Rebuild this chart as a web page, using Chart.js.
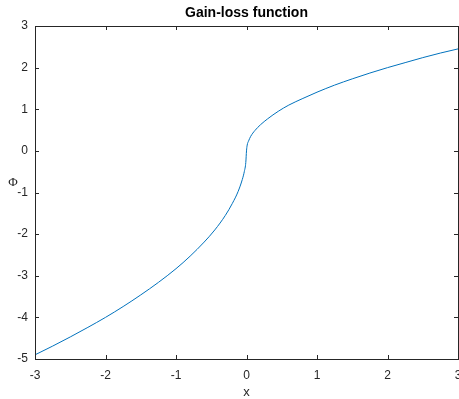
<!DOCTYPE html>
<html>
<head>
<meta charset="utf-8">
<script src="https://cdn.jsdelivr.net/npm/chart.js@4.4.0/dist/chart.umd.min.js"></script>
<style>
  html, body { margin: 0; padding: 0; background: #fff; }
  #wrap { width: 459px; height: 399px; }
</style>
</head>
<body>
<div id="wrap"><canvas id="gainChart" width="459" height="399"></canvas></div>
<script>
// values
const xValues = [-3, -2.75, -2.5, -2.25, -2, -1.75, -1.5, -1.25, -1, -0.8, -0.6, -0.45, -0.3, -0.2, -0.12, -0.06, -0.03, -0.01,
  0, 0.01, 0.03, 0.06, 0.12, 0.2, 0.3, 0.45, 0.6, 0.8, 1, 1.25, 1.5, 1.75, 2, 2.25, 2.5, 2.75, 3];
const phiValues = [-4.90, -4.69, -4.47, -4.24, -4.00, -3.74, -3.46, -3.16, -2.83, -2.53, -2.19, -1.90, -1.55, -1.26, -0.98, -0.69, -0.49, -0.28,
  0, 0.14, 0.24, 0.35, 0.49, 0.63, 0.77, 0.95, 1.10, 1.26, 1.41, 1.58, 1.73, 1.87, 2.00, 2.12, 2.24, 2.35, 2.45];
const xTicks = [-3, -2, -1, 0, 1, 2, 3];
const yTicks = [-5, -4, -3, -2, -1, 0, 1, 2, 3];

const AXIS_COLOR = '#262626';

/**
 * MATLAB-like box: frame around the plot area, inward ticks on all four sides,
 * plus the title and axis labels (the Phi stays upright, as in the original)
 */
const matlabBox = {
  id: 'matlabBox',
  afterDatasetsDraw(chart) {
    const { ctx, chartArea: a, scales } = chart;
    const len = 4;
    ctx.save();
    ctx.strokeStyle = AXIS_COLOR;
    ctx.lineWidth = 1;
    ctx.beginPath();
    xTicks.forEach(v => {
      const px = Math.round(scales.x.getPixelForValue(v)) + 0.5;
      ctx.moveTo(px, a.bottom); ctx.lineTo(px, a.bottom - len);
      ctx.moveTo(px, a.top); ctx.lineTo(px, a.top + len);
    });
    yTicks.forEach(v => {
      const py = Math.round(scales.y.getPixelForValue(v)) + 0.5;
      ctx.moveTo(a.left, py); ctx.lineTo(a.left + len, py);
      ctx.moveTo(a.right, py); ctx.lineTo(a.right - len, py);
    });
    ctx.stroke();
    ctx.strokeRect(Math.round(a.left) + 0.5, Math.round(a.top) + 0.5,
      Math.round(a.right - a.left), Math.round(a.bottom - a.top));

    const cx = (a.left + a.right) / 2;
    ctx.fillStyle = '#000';
    ctx.textAlign = 'center';
    ctx.textBaseline = 'middle';
    ctx.font = 'bold 14px "Liberation Sans", Arial, sans-serif';
    ctx.fillText('Gain-loss function', cx, 13.5);

    ctx.fillStyle = AXIS_COLOR;
    ctx.font = '13px "Liberation Sans", Arial, sans-serif';
    ctx.fillText('x', cx, 392);
    ctx.font = '13px "Liberation Serif", "DejaVu Serif", serif';
    ctx.fillText('Φ', 13, 183);
    ctx.restore();
  }
};

function buildChart() {
  const canvas = document.getElementById('gainChart');
  const points = xValues.map((x, i) => ({ x: x, y: phiValues[i] }));
  const tickFont = { family: '"Liberation Sans", Arial, sans-serif', size: 12 };

  return new Chart(canvas, {
    type: 'line',
    data: {
      datasets: [{
        data: points,
        borderColor: '#0072BD',
        borderWidth: 1,
        pointRadius: 0,
        fill: false,
        cubicInterpolationMode: 'monotone'
      }]
    },
    options: {
      responsive: false,
      animation: false,
      layout: { padding: { top: 26, right: 1, left: 0, bottom: 0 } },
      plugins: { legend: { display: false }, title: { display: false }, tooltip: { enabled: false } },
      scales: {
        x: {
          type: 'linear', min: -3, max: 3,
          grid: { display: false, drawTicks: false },
          border: { display: false },
          ticks: { stepSize: 1, padding: 9, color: AXIS_COLOR, font: tickFont, maxRotation: 0 },
          afterBuildTicks: s => { s.ticks = xTicks.map(v => ({ value: v })); },
          afterFit: s => { s.height = 40; s.paddingLeft = 0; s.paddingRight = 0; }
        },
        y: {
          type: 'linear', min: -5, max: 3,
          grid: { display: false, drawTicks: false },
          border: { display: false },
          ticks: { stepSize: 1, padding: 7, color: AXIS_COLOR, font: tickFont },
          afterBuildTicks: s => { s.ticks = yTicks.map(v => ({ value: v })); },
          afterFit: s => { s.width = 35; s.paddingTop = 0; s.paddingBottom = 0; }
        }
      }
    },
    plugins: [matlabBox]
  });
}

buildChart();
</script>
</body>
</html>
